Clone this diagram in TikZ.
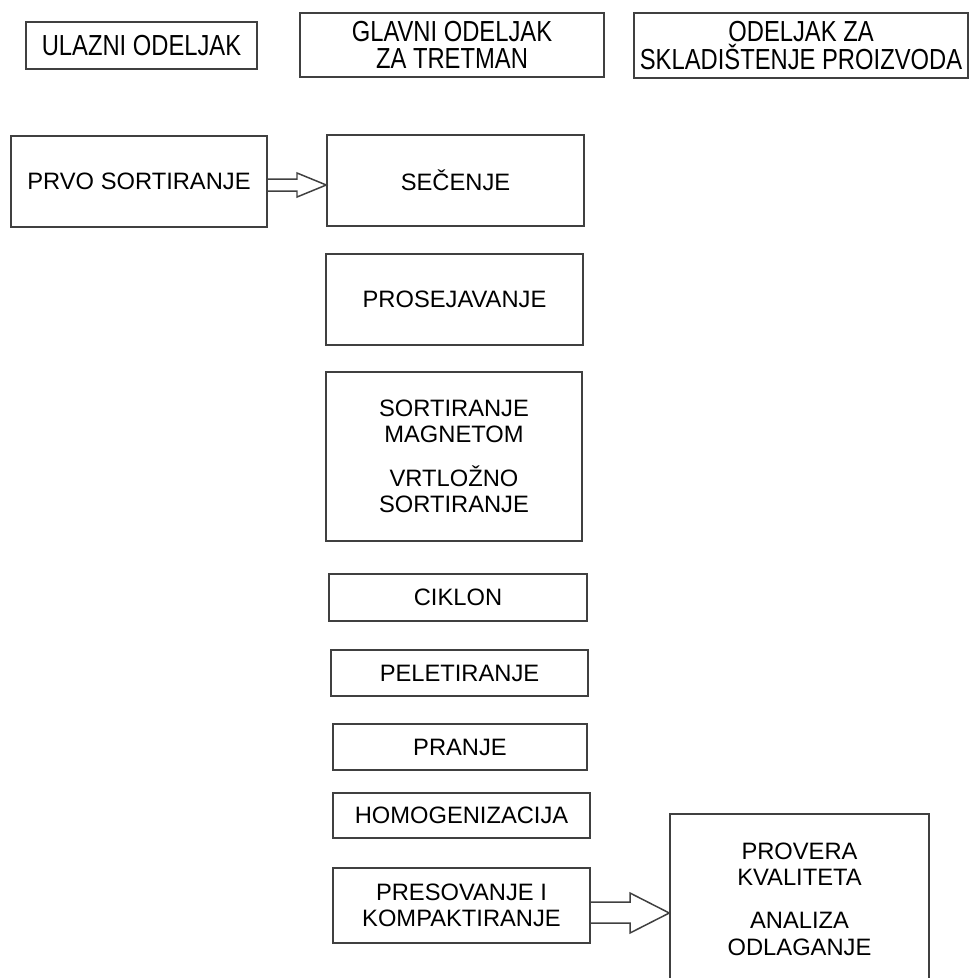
\documentclass[tikz,border=0pt]{standalone}
\usepackage{fontspec}
\setmainfont{Liberation Sans}
\newfontfamily\narrowfont[FakeStretch=0.82]{Liberation Sans}

\begin{document}
\begin{tikzpicture}[x=.02cm,y=-.02cm,
		box/.style={draw=black!75,line width=.85pt,inner sep=0pt,align=center,font=\fontsize{13.5}{15}\selectfont},
		head/.style={box,font=\narrowfont\fontsize{16.5}{15.5}\selectfont},
		flow/.style={draw=black!75,line width=.85pt}]
	\useasboundingbox (0,0) rectangle (969,978);
	\node[head,minimum width=4.62cm,minimum height=.94cm] (ulazni) at (141.5,45.5) {ULAZNI ODELJAK};
	\node[head,minimum width=6.08cm,minimum height=1.28cm] (glavni) at (452,45) {GLAVNI ODELJAK\\ZA TRETMAN};
	\node[head,minimum width=6.68cm,minimum height=1.3cm] (sklad) at (801,45.5) {ODELJAK ZA\\SKLADIŠTENJE PROIZVODA};
	\node[box,minimum width=5.12cm,minimum height=1.82cm] (prvo) at (139,181.5) {PRVO SORTIRANJE};
	\node[box,minimum width=5.14cm,minimum height=1.82cm] (sec) at (455.5,180.5) {SEČENJE};
	\node[box,minimum width=5.14cm,minimum height=1.82cm] (prosej) at (454.5,299.5) {PROSEJAVANJE};
	\node[box,minimum width=5.12cm,minimum height=3.38cm] (magnet) at (454,456.5) {SORTIRANJE\\MAGNETOM\\[9.7pt]VRTLOŽNO\\SORTIRANJE};
	\node[box,minimum width=5.16cm,minimum height=.94cm] (ciklon) at (458,597.5) {CIKLON};
	\node[box,minimum width=5.14cm,minimum height=.92cm] (pelet) at (459.5,673) {PELETIRANJE};
	\node[box,minimum width=5.08cm,minimum height=.92cm] (pranje) at (460,747) {PRANJE};
	\node[box,minimum width=5.14cm,minimum height=.9cm] (homog) at (461.5,815.5) {HOMOGENIZACIJA};
	\node[box,minimum width=5.14cm,minimum height=1.5cm] (presov) at (461.5,905.5) {PRESOVANJE I\\KOMPAKTIRANJE};
	\node[box,minimum width=5.18cm,minimum height=3.4cm] (provera) at (799.5,899) {PROVERA\\KVALITETA\\[9.7pt]ANALIZA\\ODLAGANJE};
	\draw[flow] (prvo.east |- 0,179) -- (297,179) -- (297,173) -- (sec.west |- 0,185) -- (297,197) -- (297,191) -- (prvo.east |- 0,191);
	\draw[flow] (presov.east |- 0,902) -- (630,902) -- (630,893) -- (provera.west |- 0,913) -- (630,933) -- (630,923) -- (presov.east |- 0,923);
\end{tikzpicture}
\end{document}
